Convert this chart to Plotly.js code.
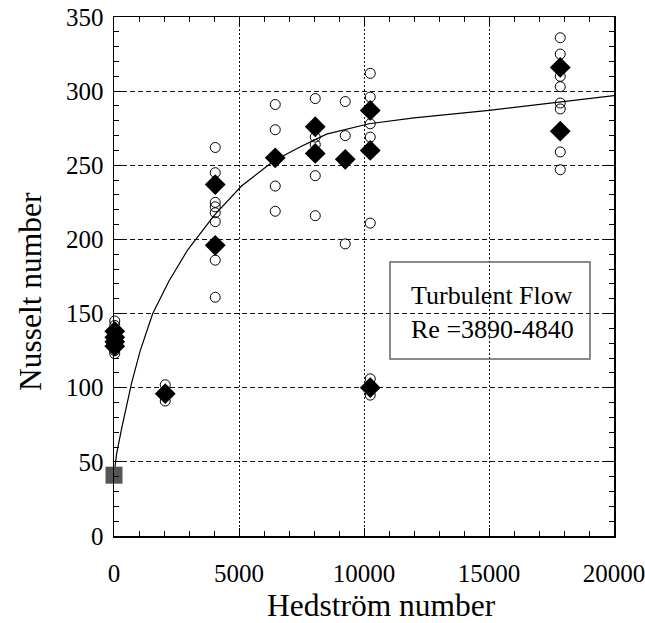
<!DOCTYPE html>
<html>
<head>
<meta charset="utf-8">
<script src="https://cdn.plot.ly/plotly-3.0.1.min.js"></script>
<style>
  html, body { margin: 0; padding: 0; background: #fff; }
  #chart { width: 645px; height: 623px; }
</style>
</head>
<body>
<div id="chart"></div>
<script>
// Individual measurements (open circles)
const openHe = [30, 30, 30, 30,
                2050, 2050,
                4050, 4050, 4050, 4050, 4050, 4050, 4050, 4050,
                6450, 6450, 6450, 6450,
                8050, 8050, 8050, 8050, 8050,
                9250, 9250, 9250,
                10250, 10250, 10250, 10250, 10250, 10250, 10250,
                17850, 17850, 17850, 17850, 17850, 17850, 17850, 17850];
const openNu = [145, 142, 125, 123,
                102, 91,
                262, 245, 225, 222, 218, 212, 186, 161,
                291, 274, 236, 219,
                295, 269, 264, 243, 216,
                293, 270, 197,
                312, 296, 278, 269, 211, 106, 95,
                336, 325, 310, 303, 292, 288, 259, 247];

// Averaged values (filled diamonds)
const meanHe = [30, 30, 30, 30, 2050, 4050, 4050, 6450, 8050, 8050, 9250,
                10250, 10250, 10250, 17850, 17850];
const meanNu = [138, 134, 131, 128, 96, 237, 196, 255, 276, 258, 254,
                287, 260, 100, 316, 273];

// Newtonian reference point (grey square)
const newtHe = [0];
const newtNu = [41];

// Trend line
const fitHe = [0, 100, 300, 700, 1050, 1550, 2200, 2950, 4000, 5100, 6400,
               7400, 8500, 10200, 12000, 15000, 20000];
const fitNu = [41, 55, 72, 103, 125, 150, 172, 193, 216, 236, 253,
               262, 271, 278, 282, 287, 297];

const xTicks = [0, 5000, 10000, 15000, 20000];
const yTicks = [0, 50, 100, 150, 200, 250, 300, 350];

const xTitle = 'Hedström number';
const yTitle = 'Nusselt number';

const serif = 'Liberation Serif, Times New Roman, serif';

const traces = [
  {
    x: fitHe, y: fitNu, type: 'scatter', mode: 'lines',
    line: { color: '#000', width: 1.2 },
    hoverinfo: 'skip'
  },
  {
    x: meanHe, y: meanNu, type: 'scatter', mode: 'markers',
    cliponaxis: false,
    marker: { symbol: 'diamond', size: 16, color: '#000' }
  },
  {
    x: openHe, y: openNu, type: 'scatter', mode: 'markers',
    cliponaxis: false,
    marker: { symbol: 'circle-open', size: 10, color: '#000', line: { width: 1, color: '#000' } }
  },
  {
    x: newtHe, y: newtNu, type: 'scatter', mode: 'markers',
    cliponaxis: false,
    marker: { symbol: 'square', size: 17, color: '#555' }
  }
];

const axisCommon = {
  showline: true, linecolor: '#000', linewidth: 1.5, mirror: 'allticks',
  ticks: 'inside', ticklen: 8, tickwidth: 1, tickcolor: '#000',
  showgrid: true, gridcolor: '#111', gridwidth: 1,
  zeroline: false,
  ticklabeloverflow: 'allow',
  tickfont: { family: serif, size: 25, color: '#000' }
};

const layout = {
  width: 645, height: 623,
  margin: { l: 114, r: 31, t: 17, b: 87 },
  paper_bgcolor: '#fff', plot_bgcolor: '#fff',
  showlegend: false,
  xaxis: Object.assign({}, axisCommon, {
    range: [0, 20000], tickmode: 'array', tickvals: xTicks,
    ticktext: xTicks.map(String),
    griddash: '2px,2px',
    ticklabelstandoff: 14,
    minor: { dtick: 1000, ticks: 'inside', ticklen: 5, tickcolor: '#000', showgrid: false }
  }),
  yaxis: Object.assign({}, axisCommon, {
    range: [0, 350], tickmode: 'array', tickvals: yTicks,
    ticktext: yTicks.map(String),
    griddash: '5px,3px',
    ticklabelstandoff: 4,
    minor: { dtick: 10, ticks: 'inside', ticklen: 5, tickcolor: '#000', showgrid: false }
  }),
  shapes: [
    { type: 'rect', xref: 'x', yref: 'y', x0: 11040, x1: 19040, y0: 119.4, y1: 184.8,
      line: { color: '#666', width: 1.5 }, fillcolor: 'rgba(0,0,0,0)' }
  ],
  annotations: [
    { xref: 'x', yref: 'y', x: 11800, y: 151, xanchor: 'left', yanchor: 'middle',
      align: 'left', showarrow: false,
      text: 'Turbulent Flow<br>Re =3890-4840',
      font: { family: serif, size: 26, color: '#000' } },
    // axis titles
    { xref: 'paper', yref: 'paper', x: 0.534, y: -0.133, xanchor: 'center', yanchor: 'middle',
      showarrow: false, text: xTitle,
      font: { family: serif, size: 31.5, color: '#000' } },
    { xref: 'paper', yref: 'paper', x: -0.168, y: 0.47, xanchor: 'center', yanchor: 'middle',
      showarrow: false, textangle: -90, text: yTitle,
      font: { family: serif, size: 31.5, color: '#000' } }
  ]
};

Plotly.newPlot('chart', traces, layout, { displayModeBar: false, staticPlot: true });
</script>
</body>
</html>
